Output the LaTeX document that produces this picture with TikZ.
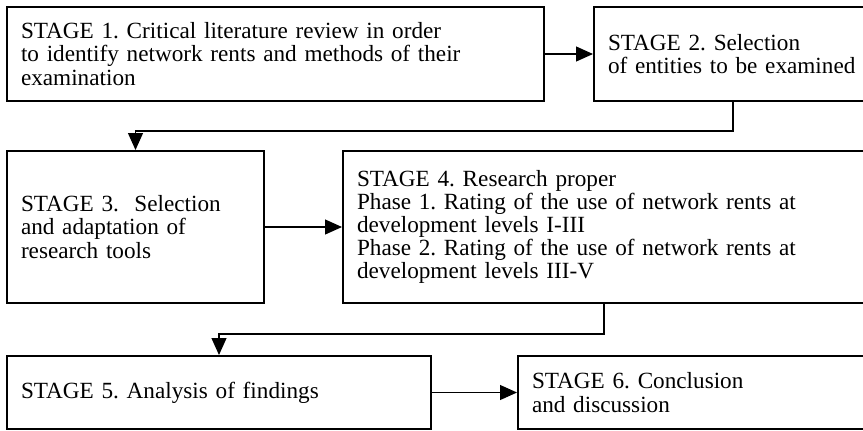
\documentclass[tikz,border=0pt]{standalone}
\usepackage{fontspec}
\setmainfont{Liberation Serif}
\usetikzlibrary{arrows.meta}
\frenchspacing

\tikzset{
  stagebox/.style={draw, line width=1pt, rectangle, anchor=north west, align=left,
    inner xsep=7pt, inner ysep=0pt, font=\fontsize{11.6}{11.6}\selectfont},
  flow/.style={line width=0.6pt, -{Triangle[length=8.5pt,width=7.5pt]}}
}

\begin{document}
\begin{tikzpicture}[x=0.5pt,y=-0.5pt]
\useasboundingbox (0,0) rectangle (863,430);
\node[stagebox, text width=254.5pt, minimum height=47pt] (s1) at (6,6)
  {STAGE 1. Critical literature review in order\\to identify network rents and methods of their\\examination};
\node[stagebox, text width=125pt, minimum height=47pt] (s2) at (593,6)
  {STAGE 2. Selection\\of entities to be examined};
\node[stagebox, text width=114.5pt, minimum height=76pt] (s3) at (6,150)
  {STAGE 3.\ \ Selection\\and adaptation of\\research tools};
\node[stagebox, text width=247pt, minimum height=76pt] (s4) at (342,150)
  {STAGE 4. Research proper\\Phase 1. Rating of the use of network rents at\\development levels I-III\\Phase 2. Rating of the use of network rents at\\development levels III-V};
\node[stagebox, text width=198pt, minimum height=36.5pt] (s5) at (6,355)
  {STAGE 5. Analysis of findings};
\node[stagebox, text width=159.5pt, minimum height=36.5pt] (s6) at (517,355)
  {STAGE 6. Conclusion\\and discussion};

\draw[flow] (s1.east) -- (s2.west);
\draw[flow] (s2.south) -- ++(0,29) -| (s3.north);
\draw[flow] (s3.east) -- (s4.west);
\draw[flow] (s4.south) -- ++(0,30) -| (s5.north);
\draw[flow] (s5.east) -- (s6.west);
\end{tikzpicture}
\end{document}
